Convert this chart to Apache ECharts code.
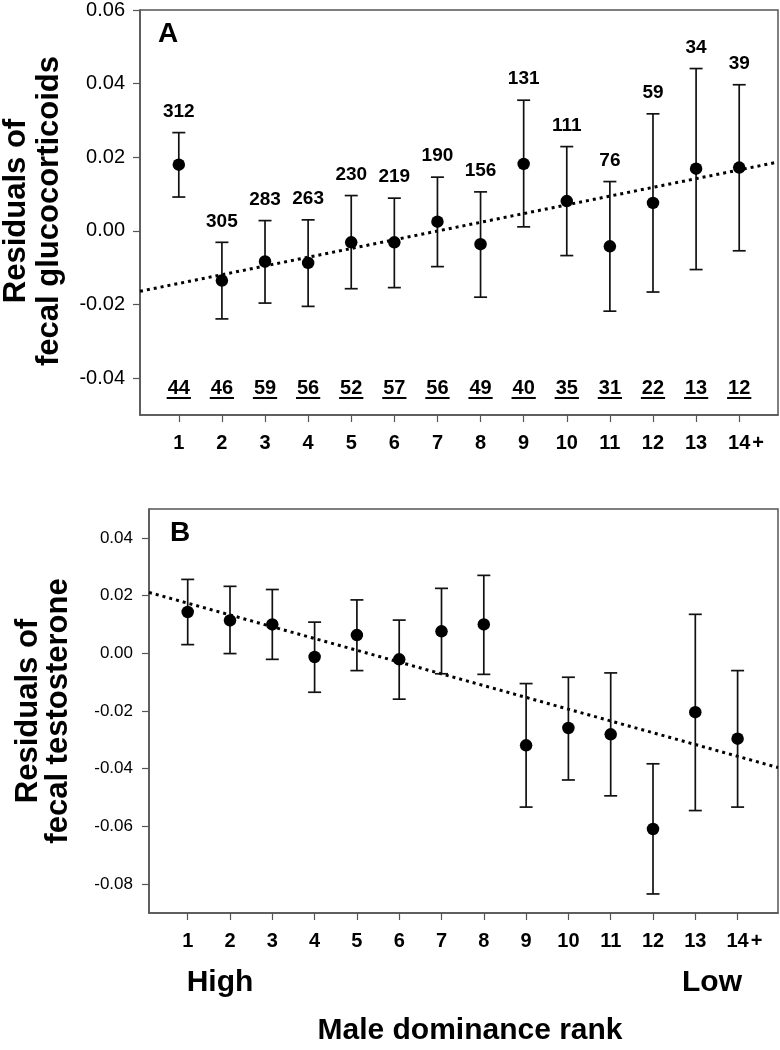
<!DOCTYPE html>
<html><head><meta charset="utf-8">
<script src="https://cdn.jsdelivr.net/npm/echarts@6/dist/echarts.min.js"></script>
<style>html,body{margin:0;padding:0;background:#fff}#c{width:780px;height:1050px}</style>
</head><body><div id="c"></div>
<script>
// ---------- data ----------
const ranks = [1,2,3,4,5,6,7,8,9,10,11,12,13,14];
const rankLabels = ['1','2','3','4','5','6','7','8','9','10','11','12','13','14+'];

// Panel A: fecal glucocorticoids residuals
const gcMean  = [0.0180,-0.0135,-0.0083,-0.0087,-0.0031,-0.0031,0.0025,-0.0036,0.0182,0.0081,-0.0042,0.0076,0.0169,0.0172];
const gcUpper = [0.0267,-0.0031,0.0028,0.0030,0.0096,0.0089,0.0146,0.0106,0.0355,0.0229,0.0134,0.0318,0.0441,0.0397];
const gcLower = [0.0092,-0.0239,-0.0196,-0.0205,-0.0157,-0.0154,-0.0097,-0.0180,0.0011,-0.0067,-0.0218,-0.0166,-0.0105,-0.0054];
const gcSamples = [312,305,283,263,230,219,190,156,131,111,76,59,34,39];
const gcMales   = [44,46,59,56,52,57,56,49,40,35,31,22,13,12];
const gcTrend = [[0.1,-0.0164],[14.9,0.0187]];
const gcTicks = [-0.04,-0.02,0.00,0.02,0.04,0.06];

// Panel B: fecal testosterone residuals
const tMean  = [0.0143,0.0114,0.0100,-0.0013,0.0063,-0.0021,0.0076,0.0100,-0.0319,-0.0259,-0.0281,-0.0609,-0.0204,-0.0296];
const tUpper = [0.0256,0.0232,0.0221,0.0108,0.0185,0.0115,0.0225,0.0270,-0.0105,-0.0083,-0.0068,-0.0383,0.0135,-0.0060];
const tLower = [0.0030,-0.0001,-0.0021,-0.0135,-0.0060,-0.0159,-0.0071,-0.0073,-0.0533,-0.0439,-0.0494,-0.0834,-0.0545,-0.0533];
const tTrend = [[0.085,0.0211],[14.955,-0.0396]];
const tTicks = [-0.08,-0.06,-0.04,-0.02,0.00,0.02,0.04];

// ---------- helpers ----------
const FF = '"Liberation Sans", Arial, Helvetica, sans-serif';
const AX = '#555';
const measureCtx = document.createElement('canvas').getContext('2d');
function textWidth(t, font){ measureCtx.font = font; return measureCtx.measureText(t).width; }

function errRender(labels){
  return function(params, api){
    const x = api.value(0), lo = api.value(1), hi = api.value(2);
    const pLo = api.coord([x, lo]), pHi = api.coord([x, hi]);
    const hw = 6.5;
    const st = {stroke:'#111', lineWidth:1.7};
    const ch = [
      {type:'line', shape:{x1:pLo[0], y1:pLo[1], x2:pHi[0], y2:pHi[1]}, style:st},
      {type:'line', shape:{x1:pLo[0]-hw, y1:pLo[1], x2:pLo[0]+hw, y2:pLo[1]}, style:st},
      {type:'line', shape:{x1:pHi[0]-hw, y1:pHi[1], x2:pHi[0]+hw, y2:pHi[1]}, style:st}
    ];
    if (labels) {
      ch.push({type:'text', x:pHi[0], y:pHi[1]-21,
        style:{text:String(labels[params.dataIndex]), align:'center', verticalAlign:'middle',
               font:'bold 19px ' + FF, fill:'#000'}});
    }
    return {type:'group', children:ch};
  };
}
function countRender(params, api){
  const x = api.value(0);
  const cs = params.coordSys;
  const px = api.coord([x, 0])[0];
  const y = cs.y + cs.height - 27;
  const t = String(gcMales[params.dataIndex]);
  const font = 'bold 20px ' + FF;
  const w = textWidth(t, font);
  return {type:'group', children:[
    {type:'text', x:px, y:y, style:{text:t, align:'center', verticalAlign:'middle', font:font, fill:'#000'}},
    {type:'rect', shape:{x:px - w/2 - 1, y:y + 9, width:w + 2, height:2}, style:{fill:'#000'}}
  ]};
}
function xLabelFmt(v){
  const i = ranks.indexOf(Math.round(v));
  const s = i >= 0 ? rankLabels[i] : '';
  if (s.endsWith('+')) return '{h|+}' + s.slice(0, -1) + '{p|+}';
  return s;
}
const xRich = {
  h:{color:'rgba(0,0,0,0)', fontSize:20, fontWeight:'bold', fontFamily:FF, padding:[0,2,0,0]},
  p:{color:'#000', fontSize:20, fontWeight:'bold', fontFamily:FF, padding:[0,0,0,2]}
};
function xAxisCfg(gi, min, max){
  return {gridIndex:gi, type:'value', min:min, max:max,
    axisLine:{show:true, onZero:false, lineStyle:{color:AX, width:1.5}},
    axisTick:{show:true, customValues:ranks, length:7, lineStyle:{color:AX, width:1.2}},
    axisLabel:{customValues:ranks, formatter:xLabelFmt, rich:xRich, fontSize:20, fontWeight:'bold',
               fontFamily:FF, color:'#000', margin:18},
    splitLine:{show:false}};
}
function yAxisCfg(gi, min, max, ticks, fs, margin){
  return {gridIndex:gi, type:'value', min:min, max:max,
    axisLine:{show:true, onZero:false, lineStyle:{color:AX, width:1.5}},
    axisTick:{show:true, customValues:ticks, length:7, lineStyle:{color:AX, width:1.2}},
    axisLabel:{customValues:ticks, formatter:v => v.toFixed(2), fontSize:fs, fontFamily:FF,
               color:'#000', margin:margin},
    splitLine:{show:false}};
}

const chart = echarts.init(document.getElementById('c'), null, {renderer:'canvas'});
chart.setOption({
  animation:false,
  backgroundColor:'#fff',
  grid:[
    {left:140, top:7, right:2, height:408, show:true, borderColor:AX, borderWidth:1.5},
    {left:149, top:509, right:2, height:404, show:true, borderColor:AX, borderWidth:1.5}
  ],
  xAxis:[xAxisCfg(0, 0.1, 14.9), xAxisCfg(1, 0.085, 14.955)],
  yAxis:[yAxisCfg(0, -0.05, 0.06, gcTicks, 20, 15), yAxisCfg(1, -0.09, 0.05, tTicks, 17, 16)],
  series:[
    {type:'line', xAxisIndex:0, yAxisIndex:0, data:gcTrend, showSymbol:false, silent:true, z:1,
     lineStyle:{color:'#000', width:3, type:[3,4]}},
    {type:'custom', xAxisIndex:0, yAxisIndex:0, renderItem:errRender(gcSamples), z:2,
     encode:{x:0, y:[1,2]}, clip:false,
     data:ranks.map((r,i) => [r, gcLower[i], gcUpper[i]])},
    {type:'scatter', xAxisIndex:0, yAxisIndex:0, symbol:'circle', symbolSize:12.5, z:3,
     itemStyle:{color:'#000', opacity:1}, data:ranks.map((r,i) => [r, gcMean[i]])},
    {type:'custom', xAxisIndex:0, yAxisIndex:0, renderItem:countRender, z:2, encode:{x:0},
     data:ranks.map((r,i) => [r, gcMales[i]])},

    {type:'line', xAxisIndex:1, yAxisIndex:1, data:tTrend, showSymbol:false, silent:true, z:1,
     lineStyle:{color:'#000', width:3, type:[3,4]}},
    {type:'custom', xAxisIndex:1, yAxisIndex:1, renderItem:errRender(null), z:2,
     encode:{x:0, y:[1,2]}, clip:false,
     data:ranks.map((r,i) => [r, tLower[i], tUpper[i]])},
    {type:'scatter', xAxisIndex:1, yAxisIndex:1, symbol:'circle', symbolSize:12.5, z:3,
     itemStyle:{color:'#000', opacity:1}, data:ranks.map((r,i) => [r, tMean[i]])}
  ],
  graphic:[
    {type:'text', x:168, y:34, style:{text:'A', font:'bold 28px ' + FF, fill:'#000', align:'center', verticalAlign:'middle'}},
    {type:'text', x:180, y:533, style:{text:'B', font:'bold 28px ' + FF, fill:'#000', align:'center', verticalAlign:'middle'}},
    {type:'text', x:33, y:211, rotation:Math.PI/2,
     style:{text:'Residuals of\nfecal glucocorticoids', font:'bold 31px ' + FF, lineHeight:33, fill:'#000', align:'center', verticalAlign:'middle'}},
    {type:'text', x:43, y:711, rotation:Math.PI/2,
     style:{text:'Residuals of\nfecal testosterone', font:'bold 31px ' + FF, lineHeight:30, fill:'#000', align:'center', verticalAlign:'middle'}},
    {type:'text', x:220, y:983, style:{text:'High', font:'bold 30px ' + FF, fill:'#000', align:'center', verticalAlign:'middle'}},
    {type:'text', x:712, y:983, style:{text:'Low', font:'bold 30px ' + FF, fill:'#000', align:'center', verticalAlign:'middle'}},
    {type:'text', x:470, y:1031, style:{text:'Male dominance rank', font:'bold 30px ' + FF, fill:'#000', align:'center', verticalAlign:'middle'}}
  ]
});
</script></body></html>
